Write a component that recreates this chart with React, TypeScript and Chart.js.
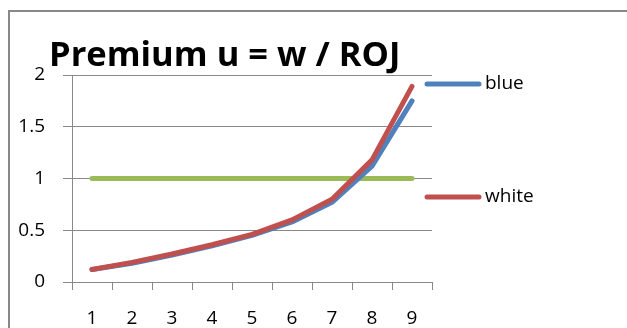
import React, { useEffect, useRef } from "react";
import { Chart, registerables } from "chart.js";

Chart.register(...registerables);

const categories = ["1", "2", "3", "4", "5", "6", "7", "8", "9"];
const blueValues = [0.12, 0.18, 0.26, 0.35, 0.45, 0.58, 0.77, 1.12, 1.75];
const whiteValues = [0.12, 0.19, 0.27, 0.36, 0.46, 0.6, 0.8, 1.18, 1.89];
const thresholdValues = [1, 1, 1, 1, 1, 1, 1, 1, 1];
const titleText = "Premium u = w / ROJ";
const legendLabels = ["blue", "white"];

const BLUE = "#4F81BD";
const RED = "#C0504D";
const GREEN = "#9BBB59";
const GRID = "#888888";
const FONT = "'Open Sans', 'DejaVu Sans', sans-serif";

const framePlugin = {
  id: "frame",
  beforeDraw(chart: any) {
    const ctx = chart.ctx;
    ctx.save();
    ctx.fillStyle = "#ffffff";
    ctx.fillRect(0, 0, chart.width, chart.height);
    ctx.strokeStyle = GRID;
    ctx.lineWidth = 2;
    ctx.strokeRect(9, 11, chart.width + 20, chart.height + 20);
    ctx.restore();
  },
  afterDraw(chart: any) {
    const ctx = chart.ctx;
    ctx.save();
    // title
    ctx.fillStyle = "#000000";
    ctx.font = `bold 34.5px ${FONT}`;
    ctx.textBaseline = "alphabetic";
    ctx.textAlign = "left";
    ctx.fillText(titleText, 49, 66);
    // legend
    const rows = [
      { label: legendLabels[0], color: BLUE, y: 84 },
      { label: legendLabels[1], color: RED, y: 197 },
    ];
    ctx.font = `19px ${FONT}`;
    ctx.textBaseline = "middle";
    for (const r of rows) {
      ctx.strokeStyle = r.color;
      ctx.lineWidth = 5;
      ctx.lineCap = "round";
      ctx.beginPath();
      ctx.moveTo(427, r.y);
      ctx.lineTo(479, r.y);
      ctx.stroke();
      ctx.fillStyle = "#000000";
      ctx.fillText(r.label, 485, r.y);
    }
    ctx.restore();
  },
};

export default function App() {
  const ref = useRef<HTMLCanvasElement | null>(null);

  useEffect(() => {
    document.body.style.margin = "0";
    const canvas = ref.current;
    if (!canvas) return;
    const lineStyle = {
      pointRadius: 0,
      borderWidth: 5,
      borderCapStyle: "round" as const,
      borderJoinStyle: "round" as const,
      tension: 0,
      fill: false,
    };
    const chart = new Chart(canvas, {
      type: "line",
      data: {
        labels: categories,
        datasets: [
          { label: "white", data: whiteValues, borderColor: RED, backgroundColor: RED, order: 0, ...lineStyle },
          { label: "blue", data: blueValues, borderColor: BLUE, backgroundColor: BLUE, order: 1, ...lineStyle },
          { label: "", data: thresholdValues, borderColor: GREEN, backgroundColor: GREEN, order: 2, ...lineStyle },
        ],
      },
      options: {
        animation: false,
        responsive: false,
        layout: { padding: { top: 75, right: 195, left: 0, bottom: 0 } },
        plugins: {
          legend: { display: false },
          title: { display: false },
          tooltip: { enabled: false },
        },
        scales: {
          x: {
            offset: true,
            afterFit(scale: any) {
              scale.height = 46;
            },
            grid: {
              offset: true,
              drawOnChartArea: false,
              drawTicks: true,
              tickLength: 8,
              color: GRID,
            },
            border: { color: GRID, width: 1 },
            ticks: {
              color: "#000000",
              font: { family: FONT, size: 19 },
              padding: 17,
              maxRotation: 0,
            },
          },
          y: {
            min: 0,
            max: 2,
            afterFit(scale: any) {
              scale.width = 72;
            },
            grid: {
              color: GRID,
              drawTicks: true,
              tickLength: 9,
            },
            border: { color: GRID, width: 1 },
            ticks: {
              stepSize: 0.5,
              color: "#000000",
              font: { family: FONT, size: 19 },
              padding: 18,
              callback: (v: any) => String(Number(v)),
            },
          },
        },
      },
      plugins: [framePlugin],
    });
    return () => chart.destroy();
  }, []);

  return (
    <div style={{ width: 627, height: 328 }}>
      <canvas ref={ref} width={627} height={328} style={{ display: "block" }} />
    </div>
  );
}
